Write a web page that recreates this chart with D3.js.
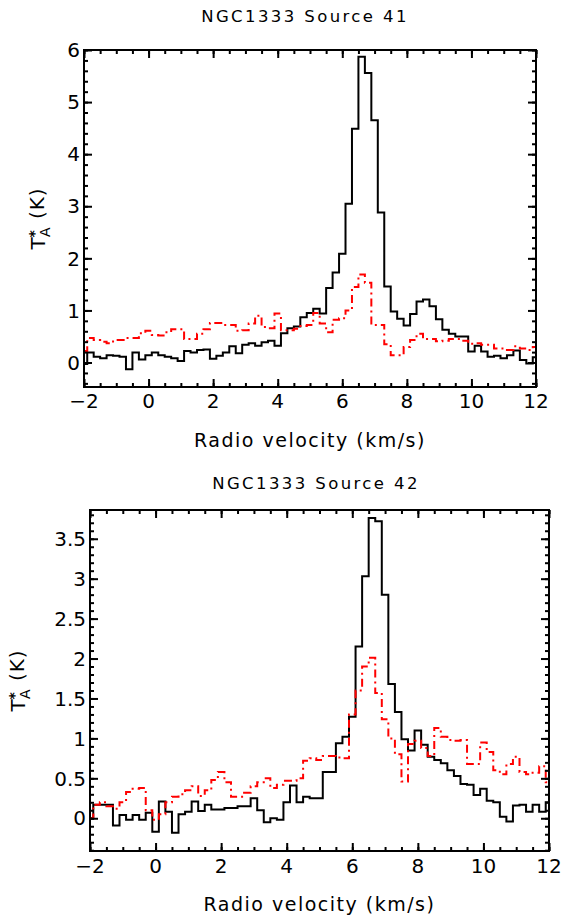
<!DOCTYPE html>
<html>
<head>
<meta charset="utf-8">
<script src="https://cdn.jsdelivr.net/npm/d3@7"></script>
<style>
  body { margin: 0; background: #fff; }
  svg { display: block; font-family: "DejaVu Sans", sans-serif; }
</style>
</head>
<body>
<script>
// channel velocities (km/s)
const velocity = [-2.0,-1.8,-1.6,-1.4,-1.2,-1.0,-0.8,-0.6,-0.4,-0.2,
  0.0,0.2,0.4,0.6,0.8,1.0,1.2,1.4,1.6,1.8,
  2.0,2.2,2.4,2.6,2.8,3.0,3.2,3.4,3.6,3.8,
  4.0,4.2,4.4,4.6,4.8,5.0,5.2,5.4,5.6,5.8,
  6.0,6.2,6.4,6.6,6.8,7.0,7.2,7.4,7.6,7.8,
  8.0,8.2,8.4,8.6,8.8,9.0,9.2,9.4,9.6,9.8,
  10.0,10.2,10.4,10.6,10.8,11.0,11.2,11.4,11.6,11.8,12.0];

// Source 41
const src41Black = [-0.03,0.19,0.11,0.08,0.14,0.13,0.11,-0.13,0.19,0.06,
  0.14,0.19,0.14,0.11,0.08,0.03,0.22,0.19,0.24,0.25,
  0.07,0.13,0.19,0.31,0.18,0.34,0.37,0.32,0.39,0.42,
  0.32,0.56,0.66,0.69,0.87,0.95,1.03,0.94,1.43,1.73,
  2.09,3.05,4.49,5.87,5.56,4.65,2.88,1.46,0.98,0.84,
  0.71,0.93,1.17,1.21,1.08,0.83,0.63,0.55,0.50,0.50,
  0.21,0.32,0.21,0.11,0.13,0.08,0.14,0.23,0.05,-0.02,0.10];
const src41Red = [0.22,0.47,0.43,0.40,0.37,0.43,0.43,0.47,0.47,0.56,
  0.61,0.53,0.52,0.58,0.64,0.64,0.45,0.45,0.55,0.64,
  0.76,0.76,0.72,0.72,0.61,0.62,0.75,0.90,0.68,0.66,
  0.94,0.62,0.62,0.65,0.70,0.72,0.95,0.75,0.58,0.82,
  0.85,1.00,1.45,1.69,1.53,0.72,0.72,0.35,0.14,0.14,
  0.30,0.43,0.55,0.45,0.45,0.41,0.42,0.45,0.45,0.42,
  0.36,0.37,0.34,0.34,0.27,0.27,0.24,0.31,0.27,0.24,0.30];

// Source 42
const src42Black = [0.00,0.17,0.17,0.17,-0.09,0.04,-0.02,0.04,-0.02,0.07,
  -0.17,0.21,0.08,-0.18,0.05,0.08,0.21,0.09,0.17,0.11,
  0.11,0.13,0.13,0.15,0.15,0.25,0.10,-0.05,0.00,-0.02,
  0.20,0.41,0.20,0.27,0.25,0.25,0.58,0.58,0.94,1.02,
  1.27,2.15,3.03,3.76,3.72,2.80,1.68,1.33,0.99,0.85,
  1.10,0.92,0.77,0.73,0.69,0.60,0.53,0.43,0.42,0.29,
  0.37,0.22,0.20,0.02,-0.04,0.16,0.17,0.08,0.17,0.08,0.20];
const src42Red = [0.00,0.17,0.20,0.15,0.12,0.20,0.33,0.37,0.38,0.10,
  -0.02,0.05,0.20,0.27,0.30,0.35,0.40,0.28,0.35,0.48,
  0.58,0.45,0.27,0.27,0.32,0.40,0.45,0.50,0.38,0.42,
  0.47,0.47,0.50,0.72,0.75,0.73,0.78,0.78,0.76,0.75,
  1.30,1.60,1.90,2.01,1.57,1.24,1.00,0.80,0.46,0.93,
  0.97,0.88,0.78,1.13,1.02,0.98,0.97,0.98,0.68,0.68,
  0.95,0.83,0.60,0.55,0.68,0.77,0.58,0.55,0.57,0.65,0.45];

const xTicks = [-2, 0, 2, 4, 6, 8, 10, 12];
const xTickLabels = ["\u22122", "0", "2", "4", "6", "8", "10", "12"];
const yTicks41 = [0, 1, 2, 3, 4, 5, 6];
const yTickLabels41 = ["0", "1", "2", "3", "4", "5", "6"];
const yTicks42 = [0, 0.5, 1, 1.5, 2, 2.5, 3, 3.5];
const yTickLabels42 = ["0", "0.5", "1", "1.5", "2", "2.5", "3", "3.5"];
const titles = ["NGC1333 Source 41", "NGC1333 Source 42"];
const xTitle = "Radio velocity (km/s)";

const svg = d3.select("body")
  .append("svg")
  .attr("width", 573)
  .attr("height", 919);

svg.append("rect").attr("width", 573).attr("height", 919).attr("fill", "#fff");

const panels = [
  {id: 41, left: 84, right: 536, top: 50, bottom: 387, yDomain: [-0.47, 6.0],
   yTicks: yTicks41, yLabels: yTickLabels41, yMinorStep: 0.2,
   black: src41Black, red: src41Red, title: titles[0],
   titleX: 305, titleY: 22, xLabelY: 408, xTitleY: 447, yTitleX: 45},
  {id: 42, left: 90, right: 549, top: 510, bottom: 851, yDomain: [-0.41, 3.86],
   yTicks: yTicks42, yLabels: yTickLabels42, yMinorStep: 0.1,
   black: src42Black, red: src42Red, title: titles[1],
   titleX: 316, titleY: 489, xLabelY: 873, xTitleY: 911, yTitleX: 25}
];

panels.forEach(drawPanel);

function drawPanel(p) {
  const x = d3.scaleLinear().domain([-2, 12]).range([p.left, p.right]);
  const y = d3.scaleLinear().domain(p.yDomain).range([p.bottom, p.top]);
  const g = svg.append("g");

  svg.append("clipPath").attr("id", "clip" + p.id)
    .append("rect")
    .attr("x", p.left).attr("y", p.top)
    .attr("width", p.right - p.left).attr("height", p.bottom - p.top);

  // histogram-style spectra
  const line = d3.line()
    .x((d, i) => x(velocity[i]))
    .y(d => y(d))
    .curve(d3.curveStep);

  g.append("path")
    .datum(p.black)
    .attr("clip-path", `url(#clip${p.id})`)
    .attr("fill", "none")
    .attr("stroke", "#000")
    .attr("stroke-width", 2)
    .attr("d", line);

  g.append("path")
    .datum(p.red)
    .attr("clip-path", `url(#clip${p.id})`)
    .attr("fill", "none")
    .attr("stroke", "#ff0000")
    .attr("stroke-width", 2)
    .attr("stroke-dasharray", "8,4,2,4")
    .attr("d", line);

  // minor tick positions
  const xMinor = d3.range(-2, 12.001, 0.5);
  const yMinor = d3.range(Math.ceil(p.yDomain[0] / p.yMinorStep) * p.yMinorStep,
                          p.yDomain[1] + 1e-6, p.yMinorStep);

  const axes = [
    [d3.axisBottom(x).tickValues(xMinor).tickSize(-4), 0, p.bottom],
    [d3.axisTop(x).tickValues(xMinor).tickSize(-4), 0, p.top],
    [d3.axisLeft(y).tickValues(yMinor).tickSize(-4), p.left, 0],
    [d3.axisRight(y).tickValues(yMinor).tickSize(-4), p.right, 0],
    [d3.axisBottom(x).tickValues(xTicks).tickSize(-8), 0, p.bottom],
    [d3.axisTop(x).tickValues(xTicks).tickSize(-8), 0, p.top],
    [d3.axisLeft(y).tickValues(p.yTicks).tickSize(-8), p.left, 0],
    [d3.axisRight(y).tickValues(p.yTicks).tickSize(-8), p.right, 0]
  ];
  axes.forEach(([ax, tx, ty]) => {
    const a = g.append("g")
      .attr("transform", `translate(${tx},${ty})`)
      .call(ax.tickFormat(""));
    a.select(".domain").remove();
    a.selectAll(".tick line").attr("stroke", "#000").attr("stroke-width", 2);
    a.selectAll("text").remove();
  });

  // tick labels
  g.selectAll(".xlab")
    .data(xTicks)
    .join("text")
    .attr("x", d => x(d))
    .attr("y", p.xLabelY)
    .attr("text-anchor", "middle")
    .style("font-size", "20px")
    .text((d, i) => xTickLabels[i]);

  g.selectAll(".ylab")
    .data(p.yTicks)
    .join("text")
    .attr("x", p.left - 4)
    .attr("y", d => y(d))
    .attr("dy", "0.36em")
    .attr("text-anchor", "end")
    .style("font-size", "20px")
    .text((d, i) => p.yLabels[i]);

  // frame
  g.append("rect")
    .attr("x", p.left).attr("y", p.top)
    .attr("width", p.right - p.left).attr("height", p.bottom - p.top)
    .attr("fill", "none")
    .attr("stroke", "#000")
    .attr("stroke-width", 2);

  const cx = (p.left + p.right) / 2;

  g.append("text")
    .attr("x", p.titleX)
    .attr("y", p.titleY)
    .attr("text-anchor", "middle")
    .style("font-size", "16.5px")
    .style("letter-spacing", "2.4px")
    .text(p.title);

  g.append("text")
    .attr("x", cx)
    .attr("y", p.xTitleY)
    .attr("text-anchor", "middle")
    .style("font-size", "19px")
    .style("letter-spacing", "1.5px")
    .text(xTitle);

  // y title: T*A (K)
  const yt = g.append("text")
    .attr("transform", `translate(${p.yTitleX},${(p.top + p.bottom) / 2}) rotate(-90)`)
    .attr("text-anchor", "middle")
    .style("font-size", "20px")
    .style("letter-spacing", "1px");
  yt.append("tspan").text("T");
  yt.append("tspan").attr("dx", "-1").attr("dy", "-0.45em").style("font-size", "14px").style("font-weight", "bold").text("*");
  yt.append("tspan").attr("dx", "-8").attr("dy", "0.8em").style("font-size", "14px").text("A");
  yt.append("tspan").attr("dy", "-0.28em").text(" (K)");
}
</script>
</body>
</html>
